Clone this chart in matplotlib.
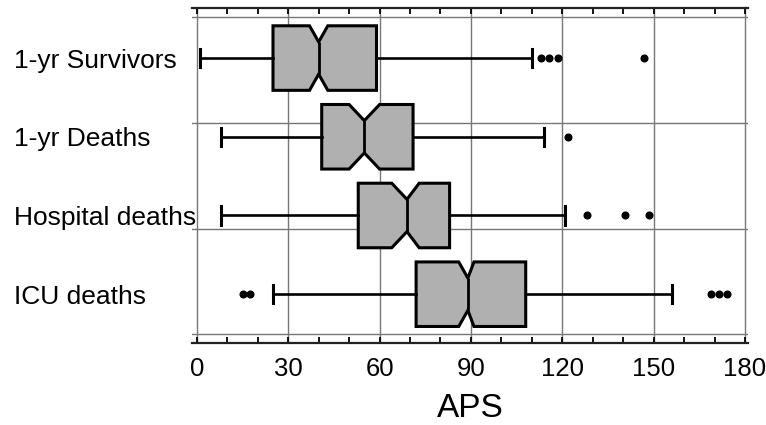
import numpy as np
import matplotlib.pyplot as plt

plt.rcParams['font.family'] = ['Liberation Sans', 'DejaVu Sans']

# Values (APS score)
groups = ['1-yr Survivors', '1-yr Deaths', 'Hospital deaths', 'ICU deaths']
whis_lo = [1, 8, 8, 25]
q1 = [25, 41, 53, 72]
median = [40, 55, 69, 89]
q3 = [59, 71, 83, 108]
whis_hi = [110, 114, 121, 156]
ci_lo = [37, 50, 64, 86]
ci_hi = [43, 60, 73, 91]
outliers = [
    [113, 115.5, 118.5, 147],
    [122],
    [128, 140.5, 148.5],
    [15, 17.5, 169, 171.5, 174],
]
x_ticks = [0, 30, 60, 90, 120, 150, 180]
h_grid = [0.48, 1.826, 3.17, 4.51]

stats = []
for i, g in enumerate(groups):
    stats.append(dict(label=g, whislo=whis_lo[i], q1=q1[i], med=median[i],
                      q3=q3[i], whishi=whis_hi[i], cilo=ci_lo[i],
                      cihi=ci_hi[i], fliers=outliers[i]))

fig = plt.figure(figsize=(7.66, 4.25), dpi=100)
ax = fig.add_axes([192 / 766, 1 - 343 / 425, 556 / 766, 335 / 425])

ax.bxp(stats, positions=[1, 2, 3, 4], vert=False, widths=0.82,
       shownotches=True, patch_artist=True, capwidths=0.23,
       boxprops=dict(facecolor='#b0b0b0', edgecolor='black', linewidth=2.2),
       medianprops=dict(color='black', linewidth=2.0),
       whiskerprops=dict(color='black', linewidth=1.9),
       capprops=dict(color='black', linewidth=2.2),
       flierprops=dict(marker='o', markersize=4.8, markerfacecolor='black',
                       markeredgecolor='black'))

ax.set_xlim(-1.6, 181)
ax.set_ylim(4.62, 0.364)

for x in x_ticks:
    ax.axvline(x, color='#777777', lw=1.0, zorder=0)
for y in h_grid:
    ax.axhline(y, color='#777777', lw=1.0, zorder=0)

ax.spines['left'].set_visible(False)
ax.spines['right'].set_visible(False)
ax.spines['top'].set_linewidth(1.6)
ax.spines['bottom'].set_linewidth(1.6)
ax.spines['top'].set_color('#222222')
ax.spines['bottom'].set_color('#222222')

ax.set_xticks(x_ticks)
ax.set_xticks(np.arange(0, 181, 10), minor=True)
ax.tick_params(axis='x', which='both', direction='in', top=True,
               length=4, width=1.3, labelsize=18.5, pad=10)

ax.set_yticks([1, 2, 3, 4])
ax.set_yticklabels(groups, fontsize=19, ha='left')
ax.tick_params(axis='y', length=0, pad=128)

ax.set_xlabel('APS', fontsize=24, labelpad=9)

fig.savefig('out.png', dpi=100)
